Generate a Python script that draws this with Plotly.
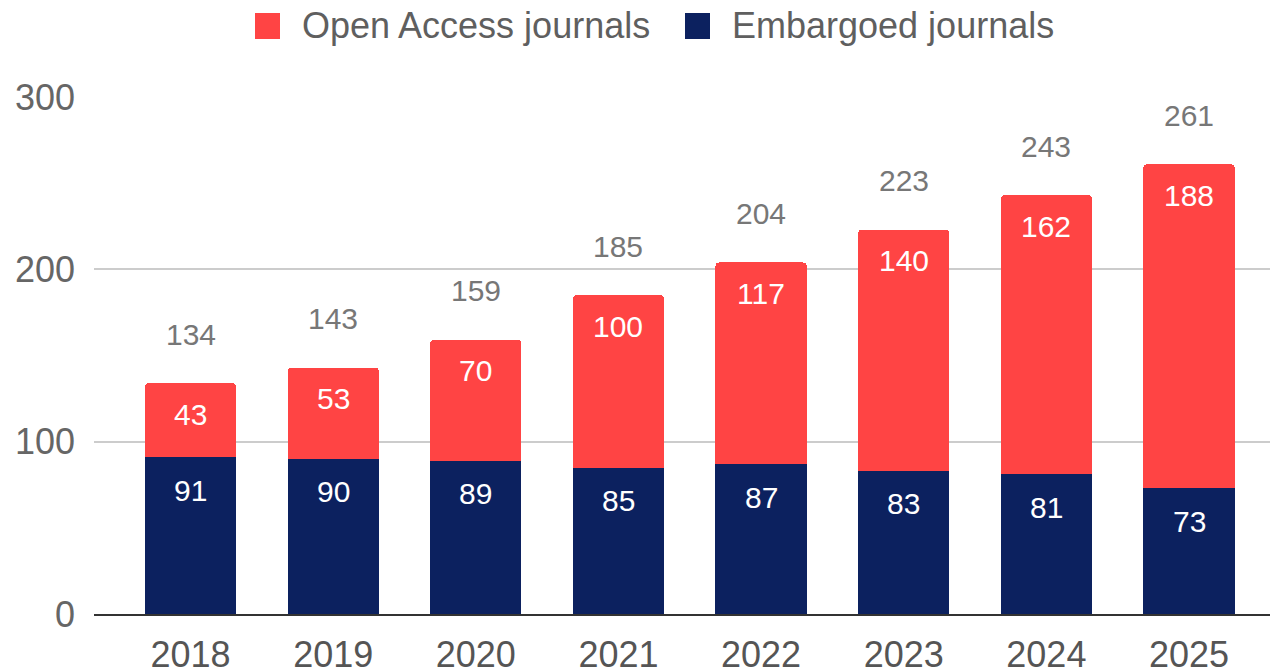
import plotly.graph_objects as go

years = ["2018", "2019", "2020", "2021", "2022", "2023", "2024", "2025"]
embargoed = [91, 90, 89, 85, 87, 83, 81, 73]
open_access = [43, 53, 70, 100, 117, 140, 162, 188]
totals = [e + o for e, o in zip(embargoed, open_access)]
legend_labels = ["Open Access journals", "Embargoed journals"]

RED = "#FF4444"
NAVY = "#0C215F"
FONT = "Liberation Sans, Arial, sans-serif"

fig = go.Figure()
fig.add_trace(go.Bar(x=years, y=embargoed, name=legend_labels[1],
                     marker=dict(color=NAVY, line=dict(width=0)), width=0.64,
                     showlegend=False, hoverinfo="skip"))
fig.add_trace(go.Bar(x=years, y=open_access, name=legend_labels[0],
                     marker=dict(color=RED, line=dict(width=0)), width=0.64,
                     showlegend=False, hoverinfo="skip"))

annotations = []
for i, (e, o, t) in enumerate(zip(embargoed, open_access, totals)):
    annotations.append(dict(x=i, y=e, text=str(e), showarrow=False, yshift=-33,
                            font=dict(family=FONT, size=30, color="white")))
    annotations.append(dict(x=i, y=t, text=str(o), showarrow=False, yshift=-31,
                            font=dict(family=FONT, size=30, color="white")))
    annotations.append(dict(x=i, y=t, text=str(t), showarrow=False, yshift=49,
                            font=dict(family=FONT, size=30, color="#777777")))

# custom legend (larger swatches than plotly's built-in legend allows)
PLOT_L, PLOT_W = 94.0, 1184.0
PLOT_B, PLOT_H = 614.0, 517.0
def px(x):
    return (x - PLOT_L) / PLOT_W
def py(y):
    return (PLOT_B - y) / PLOT_H

shapes = []
for (sx, tx), label, color in zip([(255, 300), (685, 730)], legend_labels, [RED, NAVY]):
    shapes.append(dict(type="rect", xref="paper", yref="paper",
                       x0=px(sx), x1=px(sx + 25), y0=py(39), y1=py(13),
                       fillcolor=color, line=dict(width=0)))
    annotations.append(dict(xref="paper", yref="paper", x=px(tx), y=py(26),
                            xanchor="left", yanchor="middle", text=label,
                            showarrow=False,
                            font=dict(family=FONT, size=36, color="#5f5f5f")))

fig.update_layout(
    barmode="stack",
    barcornerradius=4,
    width=1270, height=662,
    margin=dict(l=86, r=0, t=89, b=56),
    plot_bgcolor="white", paper_bgcolor="white",
    font=dict(family=FONT, size=36, color="#666666"),
    annotations=annotations,
    shapes=shapes,
    showlegend=False,
    xaxis=dict(type="category", range=[-0.677, 7.624], showgrid=False,
               showline=True, linecolor="#333333", linewidth=2,
               tickfont=dict(family=FONT, size=36, color="#555555"),
               ticklabelstandoff=8, fixedrange=True, automargin=False),
    yaxis=dict(range=[0, 300], tickvals=[0, 100, 200, 300], showgrid=True,
               gridcolor="#cccccc", gridwidth=2, zeroline=False, showline=False,
               tickfont=dict(family=FONT, size=36, color="#666666"),
               ticklabelstandoff=18, fixedrange=True, automargin=False),
)

fig.write_html("out.html")
